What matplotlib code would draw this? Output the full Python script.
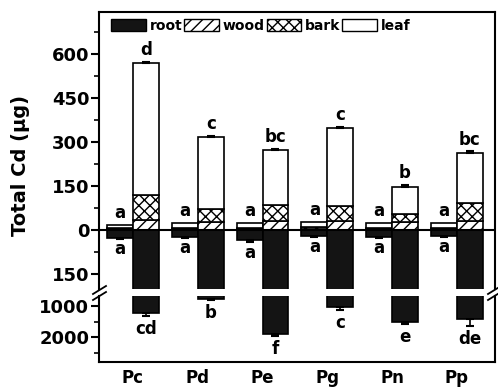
import numpy as np
import matplotlib
matplotlib.use("Agg")
import matplotlib.pyplot as plt
from matplotlib.patches import Patch
from matplotlib.lines import Line2D

plt.rcParams['font.family'] = ['DejaVu Sans']
plt.rcParams['font.weight'] = 'bold'
plt.rcParams['hatch.linewidth'] = 1.0

# ---------- data ----------
species = ['Pc', 'Pd', 'Pe', 'Pg', 'Pn', 'Pp']

# control (small, left bar of each pair)
ctrl_wood = [4, 4, 4, 5, 4, 4]
ctrl_bark = [3, 4, 4, 5, 4, 4]
ctrl_leaf = [10, 16, 16, 17, 16, 16]
ctrl_root = [27, 24, 34, 20, 24, 22]
ctrl_root_err = [2, 2, 8, 3, 2, 2]
ctrl_top_letters = ['a', 'a', 'a', 'a', 'a', 'a']
ctrl_root_letters = ['a', 'a', 'a', 'a', 'a', 'a']

# Cd treatment (tall, right bar of each pair)
cd_wood = [34, 27, 30, 30, 27, 30]
cd_bark = [85, 45, 55, 52, 28, 62]
cd_leaf = [450, 245, 188, 266, 92, 171]
cd_top_err = [5, 3, 3, 4, 8, 5]
cd_root = [1215, 775, 1900, 1030, 1500, 1420]
cd_root_err = [100, 30, 60, 90, 80, 220]
cd_top_letters = ['d', 'c', 'bc', 'c', 'b', 'bc']
cd_root_letters = ['cd', 'b', 'f', 'c', 'e', 'de']

# ---------- layout ----------
W, H = 498, 387
fig = plt.figure(figsize=(W / 100, H / 100), dpi=100)

def fy(py):
    return 1 - py / H

left, right = 99 / W, 495 / W
ax_top = fig.add_axes([left, fy(289), right - left, fy(12) - fy(289)])
ax_bot = fig.add_axes([left, fy(362), right - left, fy(296) - fy(362)])

x = np.arange(len(species))
bw = 0.40
x_ctrl = x - bw / 2
x_cd = x + bw / 2
edge = dict(edgecolor='black', linewidth=1.2)
ekw = dict(ecolor='black', elinewidth=1.2, capsize=3, capthick=1.5)

ctrl_wood = np.array(ctrl_wood); ctrl_bark = np.array(ctrl_bark)
ctrl_leaf = np.array(ctrl_leaf); ctrl_root = np.array(ctrl_root)
cd_wood = np.array(cd_wood); cd_bark = np.array(cd_bark)
cd_leaf = np.array(cd_leaf); cd_root = np.array(cd_root)

for xs, wood, bark, leaf, root in [(x_ctrl, ctrl_wood, ctrl_bark, ctrl_leaf, ctrl_root),
                                   (x_cd, cd_wood, cd_bark, cd_leaf, cd_root)]:
    ax_top.bar(xs, wood, bw, color='white', hatch='///', **edge)
    ax_top.bar(xs, bark, bw, bottom=wood, color='white', hatch='xxx', **edge)
    ax_top.bar(xs, leaf, bw, bottom=wood + bark, color='white', **edge)
    ax_top.bar(xs, -root, bw, color='#141414', **edge)
    ax_bot.bar(xs, root, bw, color='#141414', **edge)

# error bars
cd_total = cd_wood + cd_bark + cd_leaf
ax_top.errorbar(x_cd, cd_total, yerr=[np.zeros(6), cd_top_err], fmt='none', **ekw)
ax_top.errorbar(x_ctrl, -ctrl_root, yerr=[ctrl_root_err, np.zeros(6)], fmt='none', **ekw)
ax_bot.errorbar(x_cd, cd_root, yerr=[np.zeros(6), cd_root_err], fmt='none', **ekw)

ax_top.axhline(0, color='black', linewidth=1.5, zorder=5)

# letters
lt = dict(ha='center', fontsize=12, fontweight='bold', textcoords='offset points')
ctrl_total = ctrl_wood + ctrl_bark + ctrl_leaf
for i in range(len(species)):
    ax_top.annotate(ctrl_top_letters[i], (x_ctrl[i], ctrl_total[i]), xytext=(0, 2), va='bottom', **lt)
    ax_top.annotate(ctrl_root_letters[i], (x_ctrl[i], -ctrl_root[i] - ctrl_root_err[i]),
                    xytext=(0, -1), va='top', **lt)
    ax_top.annotate(cd_top_letters[i], (x_cd[i], cd_total[i] + cd_top_err[i]), xytext=(0, 2),
                    va='bottom', **lt)
    ax_bot.annotate(cd_root_letters[i], (x_cd[i], cd_root[i] + cd_root_err[i]), xytext=(0, -3),
                    va='top', annotation_clip=False, **lt)

# axes limits / ticks
for ax in (ax_top, ax_bot):
    ax.set_xlim(-0.525, 5.59)
    for s in ax.spines.values():
        s.set_linewidth(1.5)
    ax.tick_params(axis='y', which='major', direction='out', length=6, width=1.5,
                   labelsize=13, pad=1)
    ax.tick_params(axis='y', which='minor', direction='out', length=3.5, width=1.2)
    ax.tick_params(axis='x', length=0)

ax_top.set_ylim(-201, 743)
ax_top.set_yticks([-150, 0, 150, 300, 450, 600])
ax_top.set_yticklabels(['150', '0', '150', '300', '450', '600'])
ax_top.set_yticks([-75, 75, 225, 375, 525, 675], minor=True)
ax_top.spines['bottom'].set_visible(False)
ax_top.set_xticks([])

ax_bot.set_ylim(2806, 677)
ax_bot.set_yticks([1000, 2000])
ax_bot.set_yticklabels(['1000', '2000'])
ax_bot.set_yticks([1500, 2500], minor=True)
ax_bot.spines['top'].set_visible(False)
ax_bot.set_xticks(x)
ax_bot.set_xticklabels(species, fontsize=12, fontweight='bold')
ax_bot.tick_params(axis='x', pad=5)

for ax in (ax_top, ax_bot):
    for lab in ax.get_yticklabels():
        lab.set_fontweight('bold')

# break marks on the y axis
for (x0, x1) in [(93, 106), (488, 501)]:
    for dy in (0, 6):
        fig.add_artist(Line2D([x0 / W, x1 / W], [fy(294 + dy), fy(286 + dy)],
                              color='black', linewidth=1.3))

fig.text(20 / W, fy(165), 'Total Cd (\u00b5g)', rotation=90, ha='center', va='center',
         fontsize=14, fontweight='bold')

# legend
handles = [Patch(facecolor='#141414', edgecolor='black', label='root'),
           Patch(facecolor='white', edgecolor='black', hatch='///', label='wood'),
           Patch(facecolor='white', edgecolor='black', hatch='xxx', label='bark'),
           Patch(facecolor='white', edgecolor='black', label='leaf')]
leg = ax_top.legend(handles=handles, ncol=4, loc='upper left', bbox_to_anchor=(0.01, 1.005),
                    frameon=False, prop={'size': 10, 'weight': 'bold'},
                    handlelength=2.5, handleheight=1.0, handletextpad=0.25,
                    columnspacing=0.15, borderaxespad=0.2)

fig.savefig('out.png', dpi=100)
